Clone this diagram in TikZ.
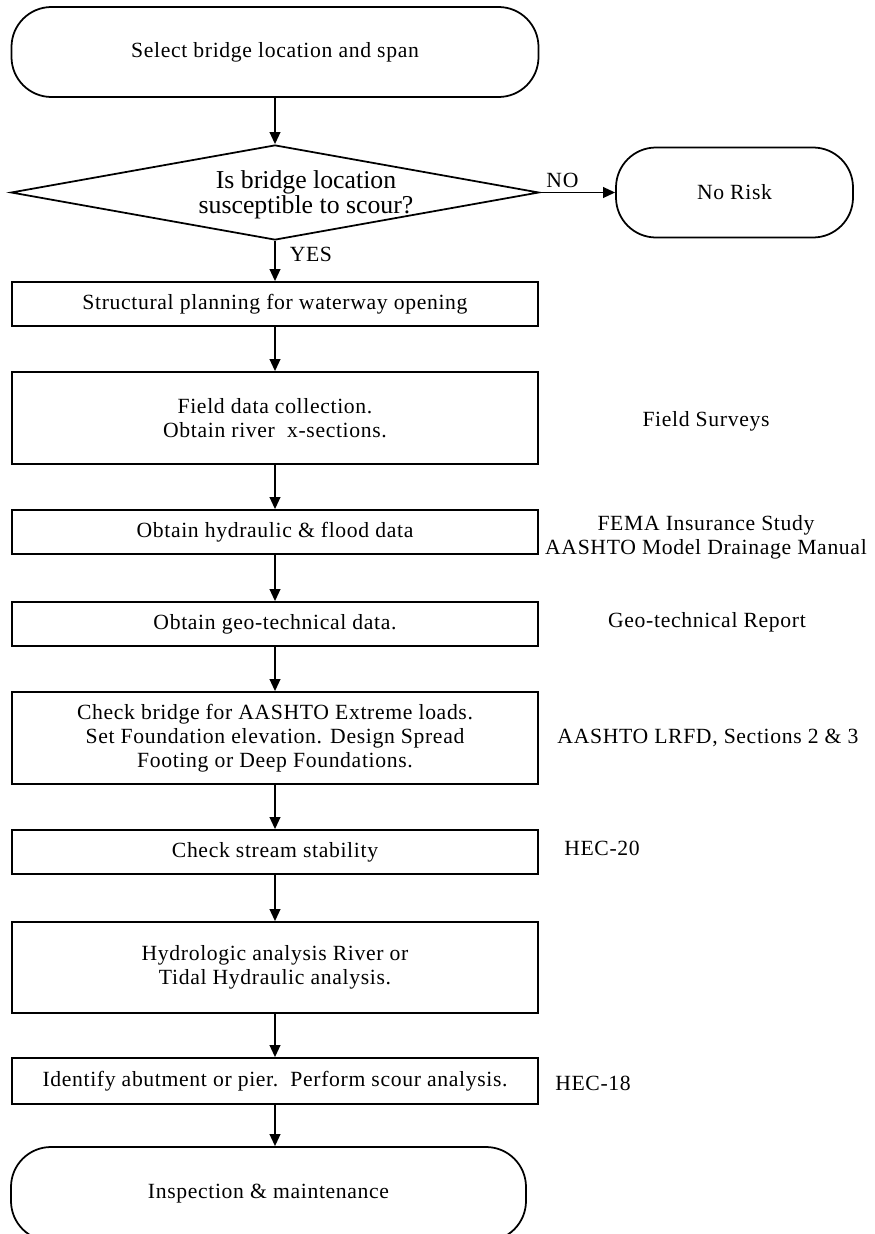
\documentclass[tikz,border=0pt]{standalone}
\usepackage{fontspec}
\setmainfont{Liberation Serif}[LetterSpace=3]
\newfontfamily\plainserif{Liberation Serif}
\usetikzlibrary{arrows.meta,shapes.geometric}
\tikzset{
  every node/.style={font=\fontsize{18.5}{20.5}\selectfont, text=black},
  terminal/.style={draw, line width=1.5pt, rounded corners=12mm, align=center},
  process/.style={draw, line width=1.5pt, minimum width=157.8mm, align=center, inner sep=0pt},
  decision/.style={draw, diamond, aspect=5.5, inner sep=0pt, line width=1.5pt,
    minimum width=158.4mm, minimum height=28.5mm},
  question/.style={align=center, font={\plainserif\fontsize{22}{21.3}\selectfont}},
  source/.style={align=center},
  flow/.style={-{Triangle[length=3.6mm,width=3.2mm]}, line width=1.5pt},
}
\begin{document}
\begin{tikzpicture}[x=0.3mm,y=-0.3mm]
  \useasboundingbox (0,0) rectangle (875,1234);
  % Decision at the top
  \node[terminal, minimum width=158.1mm, minimum height=27mm] (start) at (275,52) {Select bridge location and span};
  \node[decision] (scour) at (275,192.5) {};
  \node[question] (ask) at (306,195) {Is bridge location\\susceptible to scour?};
  \node[terminal, minimum width=71.1mm, minimum height=27mm] (norisk) at (734.5,192.5) {No Risk};
  % Design steps
  \node[process, minimum height=13.2mm] (plan) at (275,304) {Structural planning for waterway opening};
  \node[process, minimum height=27.6mm] (field) at (275,418) {Field data collection.\\Obtain river\ \ x-sections.};
  \node[process, minimum height=13.2mm] (hydro) at (275,532) {Obtain hydraulic \& flood data};
  \node[process, minimum height=13.2mm] (geo) at (275,624) {Obtain geo-technical data.};
  \node[process, minimum height=27.6mm] (loads) at (275,738) {Check bridge for AASHTO Extreme loads.\\Set Foundation elevation. Design Spread\\Footing or Deep Foundations.};
  \node[process, minimum height=13.2mm] (stream) at (275,852) {Check stream stability};
  \node[process, minimum height=27.3mm] (tidal) at (275,967.5) {Hydrologic analysis River or\\Tidal Hydraulic analysis.};
  \node[process, minimum height=13.8mm] (ident) at (275,1081) {Identify abutment or pier.\ \ Perform scour analysis.};
  \node[terminal, minimum width=154.5mm, minimum height=28.2mm] (finish) at (268.5,1194) {Inspection \& maintenance};
  % References on the right
  \node[source] (survey) at (706,421) {Field Surveys};
  \node[source] (fema) at (706,537) {FEMA Insurance Study\\AASHTO Model Drainage Manual};
  \node[source] (report) at (707,622) {Geo-technical Report};
  \node[source] (lrfd) at (708,738) {AASHTO LRFD, Sections 2 \& 3};
  \node[source] (hec20) at (602,848) {HEC-20};
  \node[source] (hec18) at (593,1083) {HEC-18};
  % Connectors
  \draw[flow] (start) -- (scour);
  \draw[flow] (scour.east) -- node[pos=0.3, above] (no) {NO} (norisk.west);
  \draw[flow] (scour) -- node[pos=0.33, right, xshift=3mm] (yes) {YES} (plan);
  \draw[flow] (plan) -- (field);
  \draw[flow] (field) -- (hydro);
  \draw[flow] (hydro) -- (geo);
  \draw[flow] (geo) -- (loads);
  \draw[flow] (loads) -- (stream);
  \draw[flow] (stream) -- (tidal);
  \draw[flow] (tidal) -- (ident);
  \draw[flow] (ident.south) -- (ident.south |- finish.north);
\end{tikzpicture}
\end{document}
